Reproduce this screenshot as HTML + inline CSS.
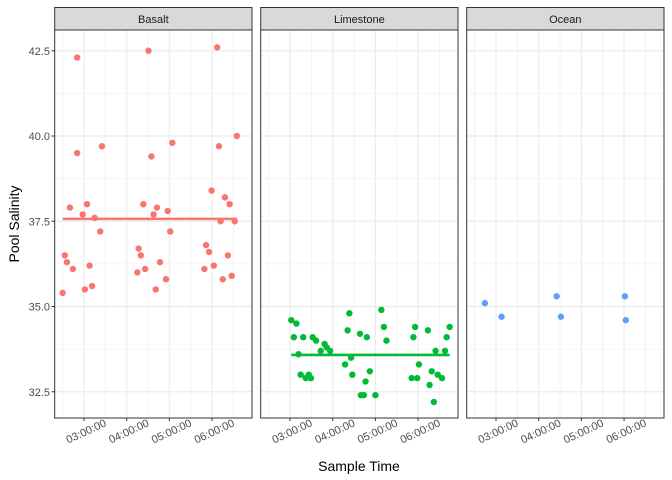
<!DOCTYPE html>
<html><head><meta charset="utf-8"><style>
html,body{margin:0;padding:0;background:#fff;}
svg{display:block;font-family:"Liberation Sans",sans-serif;}
</style></head><body>
<svg id="chart" width="672" height="480" viewBox="0 0 672 480" xmlns="http://www.w3.org/2000/svg">
<text x="0" y="0" transform="translate(19,224) rotate(-90)" text-anchor="middle" font-size="14" fill="#000">Pool Salinity</text>
<text x="359" y="471" text-anchor="middle" font-size="14" fill="#000">Sample Time</text>
</svg>
<script>
// hours after 03:00:00
const panelNames = ["Basalt","Limestone","Ocean"];
const basaltTime = [-0.50,-0.45,-0.40,-0.33,-0.26,-0.16,-0.16,-0.03,0.02,0.07,0.13,0.19,0.25,0.38,0.42,1.25,1.28,1.33,1.39,1.43,1.51,1.58,1.63,1.68,1.71,1.78,1.92,1.96,2.02,2.07,2.82,2.86,2.93,2.99,3.04,3.12,3.16,3.20,3.25,3.30,3.37,3.41,3.46,3.53,3.58];
const basaltSal = [35.4,36.5,36.3,37.9,36.1,42.3,39.5,37.7,35.5,38.0,36.2,35.6,37.6,37.2,39.7,36.0,36.7,36.5,38.0,36.1,42.5,39.4,37.7,35.5,37.9,36.3,35.8,37.8,37.2,39.8,36.1,36.8,36.6,38.4,36.2,42.6,39.7,37.5,35.8,38.2,36.5,38.0,35.9,37.5,40.0];
const limeTime = [0.03,0.15,0.09,0.31,0.20,0.25,0.37,0.44,0.49,0.53,0.61,0.72,0.81,0.86,0.94,1.29,1.35,1.39,1.43,1.46,1.64,1.77,1.80,1.87,1.66,1.73,2.00,2.14,2.20,2.26,2.85,2.98,2.89,2.93,3.02,3.23,3.27,3.32,3.37,3.41,3.46,3.56,3.63,3.67,3.74];
const limeSal = [34.6,34.5,34.1,34.1,33.6,33.0,32.9,33.0,32.9,34.1,34.0,33.7,33.9,33.8,33.7,33.3,34.3,34.8,33.5,33.0,34.2,32.8,34.1,33.1,32.4,32.4,32.4,34.9,34.4,34.0,32.9,32.9,34.1,34.4,33.3,34.3,32.7,33.1,32.2,33.7,33.0,32.9,33.7,34.1,34.4];
const oceanTime = [-0.26,0.13,1.42,1.52,3.02,3.04];
const oceanSal = [35.1,34.7,35.3,34.7,35.3,34.6];
const meanSal = [37.57,33.58,null];
const xTickVals = [0,1,2,3];
const xTickLabels = ["03:00:00","04:00:00","05:00:00","06:00:00"];
const yTickVals = [32.5,35,37.5,40,42.5];
const yTickLabels = ["32.5","35.0","37.5","40.0","42.5"];

const NS="http://www.w3.org/2000/svg";
const svg=document.getElementById('chart');
const colors=["#F8766D","#00BA38","#619CFF"];
const series=[[basaltTime,basaltSal],[limeTime,limeSal],[oceanTime,oceanSal]];
const panelLeft=[54.7,260.7,466.7], panelW=197.3, plotTop=30, plotBottom=418;
const xMin=-0.686, xMax=3.935;
function yS(v){return 136+(40-v)*34.1;}
function xS(p,h){return panelLeft[p]+(h-xMin)/(xMax-xMin)*panelW;}
function mk(tag,attrs,parent){const e=document.createElementNS(NS,tag);for(const k in attrs)e.setAttribute(k,attrs[k]);(parent||svg).appendChild(e);return e;}

yTickVals.forEach((v,i)=>{
  const t=mk('text',{x:50,y:yS(v)+4,'text-anchor':'end','font-size':11,fill:'#4d4d4d'});
  
  
  t.textContent=yTickLabels[i];
  const tk=mk('line',{x1:51.5,x2:54.7,y1:yS(v),y2:yS(v),stroke:'#333','stroke-width':1});
  
  
});

for(let p=0;p<3;p++){
  const g=mk('g',{});
  
  
  const L=panelLeft[p],R=L+panelW;
  const s=mk('rect',{x:L,y:7.5,width:panelW,height:22.5,fill:'#d9d9d9',stroke:'#333','stroke-width':1},g);
  
  
  const st=mk('text',{x:L+panelW/2,y:23,'text-anchor':'middle','font-size':11,fill:'#1a1a1a'},g);
  
  
  st.textContent=panelNames[p];
  for(let i=0;i<yTickVals.length-1;i++){
    const m=(yTickVals[i]+yTickVals[i+1])/2;
    const gl=mk('line',{x1:L,x2:R,y1:yS(m),y2:yS(m),stroke:'#ebebeb','stroke-width':0.6},g);
    
    
  }
  for(let i=-1;i<xTickVals.length;i++){
    const m=xTickVals[0]+i+0.5;
    const gl=mk('line',{x1:xS(p,m),x2:xS(p,m),y1:plotTop,y2:plotBottom,stroke:'#ebebeb','stroke-width':0.6},g);
    
    
  }
  yTickVals.forEach(v=>{
    const gl=mk('line',{x1:L,x2:R,y1:yS(v),y2:yS(v),stroke:'#ebebeb','stroke-width':1.2},g);
    
    
  });
  xTickVals.forEach((v,i)=>{
    const x=xS(p,v);
    const gl=mk('line',{x1:x,x2:x,y1:plotTop,y2:plotBottom,stroke:'#ebebeb','stroke-width':1.2},g);
    
    
    const tk=mk('line',{x1:x,x2:x,y1:plotBottom,y2:plotBottom+3,stroke:'#333','stroke-width':1},g);
    
    
    const t=mk('text',{x:0,y:4,transform:`translate(${x+2},${plotBottom+13}) rotate(-25)`,'text-anchor':'middle','font-size':11,fill:'#4d4d4d'},g);
    
    
    t.textContent=xTickLabels[i];
  });
  const [ts,vs]=series[p];
  for(let i=0;i<ts.length;i++){
    const c=mk('circle',{cx:xS(p,ts[i]),cy:yS(vs[i]),r:3.2,fill:colors[p]},g);
    
    
  }
  if(meanSal[p]!==null){
    const mn=Math.min(...ts),mx=Math.max(...ts);
    const ml=mk('line',{x1:xS(p,mn),x2:xS(p,mx),y1:yS(meanSal[p]),y2:yS(meanSal[p]),stroke:colors[p],'stroke-width':2.6},g);
    
    
  }
  const b=mk('rect',{x:L,y:plotTop,width:panelW,height:plotBottom-plotTop,fill:'none',stroke:'#333','stroke-width':1},g);
  
  
}
</script>
</body></html>
